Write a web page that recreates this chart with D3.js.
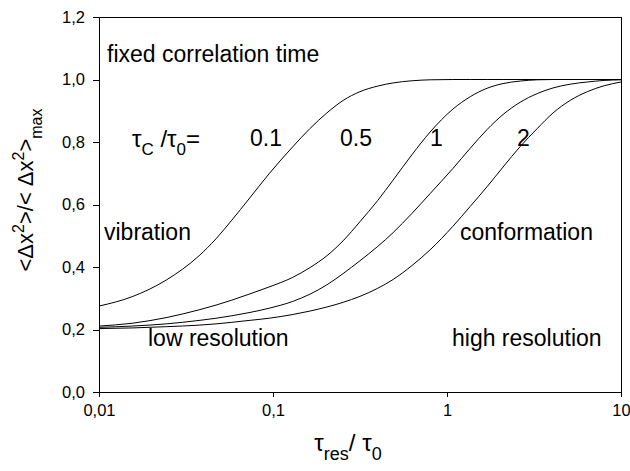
<!DOCTYPE html>
<html lang="en">
<head>
<meta charset="utf-8">
<title>Fixed correlation time</title>
<script src="https://d3js.org/d3.v7.min.js"></script>
<style type="text/css">
	body { margin: 0; background: #fff; }
	svg text { font-family: "Liberation Sans", Arial, sans-serif; fill: #000; }
	.axis path, .axis line { fill: none; stroke: #000; shape-rendering: crispEdges; }
	.axis text { font-size: 16.5px; }
	.curve { fill: none; stroke: #000; stroke-width: 1; }
</style>
</head>
<body>
<script type="text/javascript">

// tau_res / tau_0 sample positions
var tauRes = [0.01, 0.0155, 0.0243, 0.0376, 0.047, 0.058, 0.0728, 0.0948, 0.13, 0.163, 0.204,
	0.253, 0.316, 0.4, 0.49, 0.63, 0.8, 1.08, 1.36, 1.7, 2.1, 2.63, 3.3, 4.07, 5.1, 6.4, 8, 10];

// <dx^2>/<dx^2>max for each tau_C / tau_0
var curve01 = [0.275, 0.305, 0.358, 0.436, 0.49, 0.55, 0.618, 0.698, 0.785, 0.843, 0.893,
	0.933, 0.961, 0.979, 0.989, 0.996, 0.999, 1.0, 1.0, 1.0, 1.0, 1.0, 1.0, 1.0, 1.0, 1.0, 1.0, 1.0];
var curve05 = [0.211, 0.22, 0.238, 0.263, 0.278, 0.294, 0.313, 0.336, 0.367, 0.398, 0.436,
	0.484, 0.545, 0.613, 0.678, 0.76, 0.832, 0.905, 0.945, 0.972, 0.987, 0.995, 0.999, 1.0, 1.0, 1.0, 1.0, 1.0];
var curve1 = [0.207, 0.211, 0.218, 0.229, 0.236, 0.244, 0.254, 0.268, 0.29, 0.313, 0.343,
	0.379, 0.42, 0.466, 0.51, 0.572, 0.635, 0.715, 0.78, 0.84, 0.888, 0.927, 0.955, 0.973, 0.985, 0.992, 0.997, 0.999];
var curve2 = [0.203, 0.205, 0.209, 0.214, 0.218, 0.223, 0.229, 0.236, 0.248, 0.259, 0.272,
	0.287, 0.306, 0.332, 0.36, 0.405, 0.455, 0.53, 0.594, 0.657, 0.72, 0.785, 0.843, 0.893, 0.933, 0.961, 0.98, 0.992];

var series = [curve01, curve05, curve1, curve2];

// tick labels
var xTicks = [0.01, 0.1, 1, 10];
var xTickLabels = ["0,01", "0,1", "1", "10"];
var yTicks = [0, 0.2, 0.4, 0.6, 0.8, 1.0, 1.2];
var yTickLabels = ["0,0", "0,2", "0,4", "0,6", "0,8", "1,0", "1,2"];

// Define margins
var margin = {top: 17, right: 9, bottom: 79, left: 99};
var outer_width = 630;
var outer_height = 471;
var width = outer_width - margin.left - margin.right;
var height = outer_height - margin.top - margin.bottom;

var svg = d3.select("body")
	.append("svg")
	.attr("width", outer_width)
	.attr("height", outer_height)
	.append("g")
	.attr("transform", "translate(" + margin.left + "," + margin.top + ")");

// scales
var xScale = d3.scaleLog().domain([0.01, 10]).range([0, width]);
var yScale = d3.scaleLinear().domain([0, 1.2]).range([height, 0]);

// axes
var xAxis = d3.axisBottom(xScale)
	.tickValues(xTicks)
	.tickSize(5)
	.tickSizeOuter(0)
	.tickPadding(7)
	.tickFormat(function(d, i) { return xTickLabels[i]; });

var yAxis = d3.axisLeft(yScale)
	.tickValues(yTicks)
	.tickSize(6)
	.tickSizeOuter(0)
	.tickPadding(8)
	.tickFormat(function(d, i) { return yTickLabels[i]; });

svg.append("g")
	.attr("class", "x axis")
	.attr("transform", "translate(0," + height + ")")
	.call(xAxis);

svg.append("g")
	.attr("class", "y axis")
	.call(yAxis);

// top and right frame lines
svg.append("line")
	.attr("x1", 0).attr("x2", width).attr("y1", 0).attr("y2", 0)
	.attr("stroke", "#000").attr("shape-rendering", "crispEdges");
svg.append("line")
	.attr("x1", width).attr("x2", width).attr("y1", 0).attr("y2", height)
	.attr("stroke", "#000").attr("shape-rendering", "crispEdges");

// curves
var line = d3.line()
	.x(function(d) { return xScale(d[0]); })
	.y(function(d) { return yScale(d[1]); })
	.curve(d3.curveMonotoneX);

svg.selectAll(".curve")
	.data(series)
	.enter()
	.append("path")
	.attr("class", "curve")
	.attr("d", function(s) {
		return line(tauRes.map(function(t, i) { return [t, s[i]]; }));
	});

// annotations (page coordinates)
var page = d3.select("svg");

function label(x, y, txt) {
	page.append("text")
		.attr("x", x)
		.attr("y", y)
		.style("font-size", "23px")
		.text(txt);
}

label(107, 62, "fixed correlation time");
label(104, 240, "vibration");
label(460, 240, "conformation");
label(148, 346, "low resolution");
label(452, 346, "high resolution");
label(250, 146, "0.1");
label(340, 146, "0.5");
label(430, 146, "1");
label(517, 146, "2");

// tau_C / tau_0 =
var tc = page.append("text").attr("x", 132).attr("y", 147).style("font-size", "24px");
tc.append("tspan").text("\u03c4");
tc.append("tspan").attr("dy", 8).style("font-size", "17px").text("C");
tc.append("tspan").attr("dy", -8).text(" /\u03c4");
tc.append("tspan").attr("dy", 8).style("font-size", "17px").text("0");
tc.append("tspan").attr("dy", -8).text("=");

// x axis title
var xt = page.append("text")
	.attr("x", 348)
	.attr("y", 451)
	.attr("text-anchor", "middle")
	.style("font-size", "24px");
xt.append("tspan").text("\u03c4");
xt.append("tspan").attr("dy", 9).style("font-size", "18px").text("res");
xt.append("tspan").attr("dy", -9).text("/ \u03c4");
xt.append("tspan").attr("dy", 9).style("font-size", "18px").text("0");

// y axis title
var yt = page.append("text")
	.attr("transform", "translate(33,190) rotate(-90)")
	.attr("text-anchor", "middle")
	.style("font-size", "22px");
yt.append("tspan").text("<\u0394x");
yt.append("tspan").attr("dy", -9).style("font-size", "16px").text("2");
yt.append("tspan").attr("dy", 9).text(">/< \u0394x");
yt.append("tspan").attr("dy", -9).style("font-size", "16px").text("2");
yt.append("tspan").attr("dy", 9).text(">");
yt.append("tspan").attr("dy", 9).style("font-size", "16px").text("max");

</script>
</body>
</html>
